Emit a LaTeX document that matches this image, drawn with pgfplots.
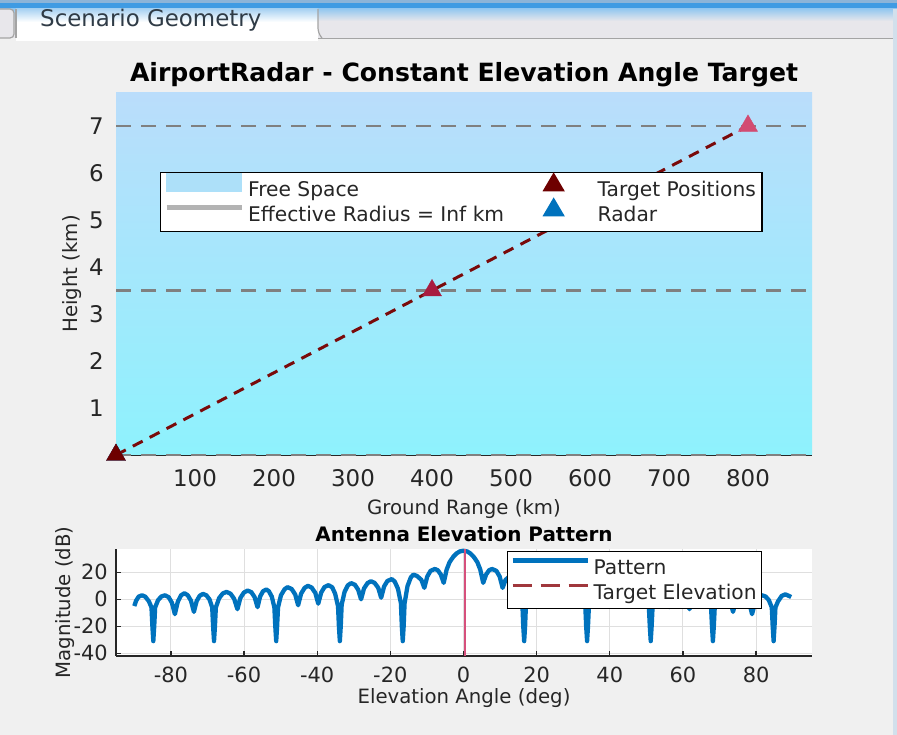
\documentclass[border=0pt]{standalone}
\usepackage{fontspec}
\setmainfont{DejaVu Sans}
\usepackage{pgfplots}
\pgfplotsset{compat=1.18}

\definecolor{uibg}{HTML}{F0F0F0}
\definecolor{uibar}{HTML}{E8E7EB}
\definecolor{uiblue}{HTML}{3F9BE3}
\definecolor{uitop}{HTML}{8CB4D8}
\definecolor{uiline}{HTML}{A4A4A4}
\definecolor{uiedge}{HTML}{D2E0EC}
\definecolor{tabtxt}{HTML}{2F3B46}
\definecolor{txt}{HTML}{262626}
\definecolor{skytop}{HTML}{BADDFB}
\definecolor{skybot}{HTML}{8EF2FD}
\definecolor{freespace}{HTML}{ADE0F9}
\definecolor{tgtA}{HTML}{6E0000}
\definecolor{tgtB}{HTML}{A81C40}
\definecolor{tgtC}{HTML}{D24B72}
\definecolor{tgtline}{HTML}{7A0A0A}
\definecolor{mblue}{HTML}{0072BD}
\definecolor{elev}{HTML}{D6507C}
\definecolor{elevleg}{HTML}{A0373C}
\definecolor{gline}{HTML}{808080}
\definecolor{effr}{HTML}{B3B3B3}
\definecolor{gridc}{HTML}{DFDFDF}

\newcommand\fs[1]{\fontsize{#1}{#1}\selectfont}

\begin{document}
\begin{tikzpicture}[x=1bp,y=1bp]
% window background and tab strip
\fill[uibg] (0,0) rectangle (897,735);
\useasboundingbox (0,0) rectangle (897,735);
\fill[uitop] (0,732) rectangle (897,735);
\fill[uiblue] (0,726) rectangle (897,732);
\shade[top color=uiblue!55!white, bottom color=uibar] (0,714) rectangle (897,726);
\fill[uibar] (0,697) rectangle (897,714);
\draw[uiline, line width=1.5] (318,696.5) -- (897,696.5);
\fill[uibg] (0,660) rectangle (897,695.8);
\draw[uiline, line width=1.2, fill=uibar, rounded corners=4] (-5,726) -- (14,726) -- (14,697) -- (-5,697);
\shade[top color=uiblue!45!white, bottom color=white, middle color=white, shading angle=0]
  (16,726) rectangle (318,700);
\fill[white] (16,700) rectangle (318,694);
\draw[uiline, line width=1.2, rounded corners=5] (16,697) -- (16,726);
\draw[uiline, line width=1.2, rounded corners=5] (318,726) -- (318,702) -- (322,697);
\node[anchor=base west, font=\fs{23}, text=tabtxt, inner sep=0pt] at (40,708) {Scenario Geometry};
\fill[uiedge] (893,0) rectangle (897,726);

% ---------- scenario geometry ----------
\begin{axis}[
  at={(116bp,280bp)}, anchor=south west,
  width=696bp, height=362bp, scale only axis,
  xmin=0, xmax=881, ymin=0, ymax=7.7,
  axis x line*=bottom, axis y line*=left,
  x axis line style={draw=txt, line width=1.5bp, -},
  y axis line style={draw=none, -},
  xtick={100,200,...,800}, ytick={1,2,...,7},
  xticklabels={100,200,300,400,500,600,700,800},
  yticklabels={1,2,3,4,5,6,7},
  major tick length=0pt,
  tick label style={font=\fs{23}, text=txt},
  xticklabel style={anchor=center, yshift=-23bp},
  yticklabel style={anchor=east, inner sep=0pt, xshift=-12bp},
  clip=false,
  title={AirportRadar - Constant Elevation Angle Target},
  title style={font=\bfseries\fs{25.2}, at={(axis description cs:0.5,1.0331)}, anchor=center, text=black},
  xlabel={Ground Range (km)},
  xlabel style={font=\fs{19.8}, text=txt, at={(axis description cs:0.5,-0.1492)}, anchor=center},
  ylabel={Height (km)},
  ylabel style={font=\fs{19.8}, text=txt, at={(axis description cs:-0.0632,0.5)}, anchor=center},
  legend columns=2,
  legend cell align=left,
  legend style={at={(axis description cs:0.0632,0.7818)}, anchor=north west,
    draw=black, line width=1.3bp, fill=white, inner xsep=6bp, inner ysep=7bp,
    font=\fs{20.3}, text=txt,
    nodes={inner sep=0pt, text height=17bp, text depth=3bp, anchor=west},
    row sep=5bp,
    /tikz/every odd column/.append style={column sep=6.5bp},
    /tikz/every even column/.append style={column sep=12bp}},
]
\addplot[forget plot, draw=none, top color=skytop, bottom color=skybot]
  coordinates {(0,7.7) (881,7.7)} \closedcycle;
\addplot[forget plot, gline, line width=2.5bp, dash pattern=on 15bp off 10bp] coordinates {(0,0) (881,0)};
\addplot[forget plot, gline, line width=2.5bp, dash pattern=on 15bp off 10bp] coordinates {(0,3.5) (881,3.5)};
\addplot[forget plot, gline, line width=2.5bp, dash pattern=on 15bp off 10bp] coordinates {(0,7) (881,7)};
\addplot[forget plot, tgtline, line width=3bp, dash pattern=on 11bp off 8bp]
  coordinates {(0,0) (400,3.5) (800,7)};
% radar
\addplot[forget plot, only marks, mark=triangle*, mark size=11bp, mark options={fill=mblue, draw=mblue}]
  coordinates {(0,0)};
% targets
\addplot[forget plot, only marks, scatter, scatter src=explicit symbolic, mark size=11bp,
  scatter/classes={a={mark=triangle*, fill=tgtA, draw=tgtA},
                   b={mark=triangle*, fill=tgtB, draw=tgtB},
                   c={mark=triangle*, fill=tgtC, draw=tgtC}}]
  coordinates {(0,0) [a] (400,3.5) [b] (800,7) [c]};
\addlegendimage{legend image code/.code={\path[draw=none,fill=none] (0bp,7bp) -- (75bp,7bp);\fill[freespace, overlay] (0bp,-2bp) rectangle (75bp,16bp);}}
\addlegendentry{Free Space}
\addlegendimage{legend image code/.code={\path[draw=none,fill=none] (0bp,7bp) -- (75bp,7bp);\fill[tgtA, overlay] (37.5bp,16bp) -- (27.5bp,-1bp) -- (47.5bp,-1bp) -- cycle;}}
\addlegendentry{Target Positions}
\addlegendimage{legend image code/.code={\path[draw=none,fill=none] (0bp,7bp) -- (75bp,7bp);\draw[effr, line width=5bp, overlay] (0bp,7bp) -- (75bp,7bp);}}
\addlegendentry{Effective Radius = Inf km}
\addlegendimage{legend image code/.code={\path[draw=none,fill=none] (0bp,7bp) -- (75bp,7bp);\fill[mblue, overlay] (37.5bp,16bp) -- (27.5bp,-1bp) -- (47.5bp,-1bp) -- cycle;}}
\addlegendentry{Radar}
\end{axis}

% ---------- antenna elevation pattern ----------
\begin{axis}[
  at={(116bp,79bp)}, anchor=south west,
  width=696bp, height=107bp, scale only axis,
  xmin=-95, xmax=95.3, ymin=-42, ymax=37.3,
  axis background/.style={fill=white},
  axis x line*=bottom, axis y line*=left,
  axis line style={draw=txt, line width=1.3bp, -},
  xtick={-80,-60,...,80}, ytick={-40,-20,0,20},
  xticklabels={-80,-60,-40,-20,0,20,40,60,80},
  yticklabels={-40,-20,0,20},
  grid=major, major grid style={draw=gridc, line width=1bp},
  tick align=inside, major tick length=5bp,
  tick style={draw=txt, line width=1.3bp},
  tick label style={font=\fs{21}, text=txt},
  xticklabel style={anchor=center, yshift=-19bp},
  yticklabel style={anchor=east, inner sep=0pt, xshift=-8bp},
  title={Antenna Elevation Pattern},
  title style={font=\bfseries\fs{20}, at={(axis description cs:0.5,1.084)}, anchor=center, text=black},
  xlabel={Elevation Angle (deg)},
  xlabel style={font=\fs{19.8}, text=txt, at={(axis description cs:0.5,-0.3925)}, anchor=center},
  ylabel={Magnitude (dB)},
  ylabel style={font=\fs{19.8}, text=txt, at={(axis description cs:-0.0733,0.5)}, anchor=center},
  legend cell align=left,
  legend style={at={(axis description cs:0.5618,0.9813)}, anchor=north west,
    draw=black, line width=1.3bp, fill=white, inner xsep=5bp, inner ysep=6bp,
    font=\fs{20.3}, text=txt,
    nodes={inner sep=0pt, text height=17bp, text depth=3bp, anchor=west},
    row sep=5bp,
    /tikz/every odd column/.append style={column sep=6bp}},
]
\addplot[forget plot, mblue, line width=4.3bp, line join=round] coordinates {
(-90,-5) (-89.5,-1) (-88.8,2) (-87.9,3) (-87,2) (-86,-1.5) (-85.3,-6)
(-85.05,-20) (-84.8,-31) (-84.55,-20) (-84.3,-6)
(-83.5,-0.6) (-82.6,2.1) (-81.6,3) (-80.6,1.6) (-79.7,-2.6) (-78.9,-11)
(-78.1,-1.7) (-77.2,3) (-76.3,4.5) (-75.4,3.1) (-74.5,-1) (-73.7,-9.3)
(-72.95,-1.3) (-72.1,2.7) (-71.2,4) (-70.3,3) (-69.45,0) (-68.7,-6)
(-68.45,-20) (-68.2,-31) (-67.95,-20) (-67.7,-6)
(-66.8,0.9) (-65.8,4.35) (-64.8,5.5) (-63.7,4.2) (-62.7,0.4) (-61.8,-7.3)
(-61,1) (-60,5.1) (-59,6.5) (-58,5.3) (-57.1,1.6) (-56.3,-5.8)
(-55.6,2.1) (-54.8,6) (-53.9,7.3) (-53.2,6) (-52.4,2) (-51.7,-6)
(-51.45,-20) (-51.2,-31) (-50.95,-20) (-50.7,-6)
(-49.9,3) (-48.9,7.5) (-48.1,9) (-47,7.7) (-46,3.6) (-45.2,-4.4)
(-44.4,4.2) (-43.4,8.6) (-42.5,10) (-41.5,8.7) (-40.5,4.7) (-39.7,-3.2)
(-38.9,5) (-38,9.1) (-36.9,10.5) (-35.9,8.95) (-35.1,4.3) (-34.3,-5)
(-34.05,-20) (-33.8,-31) (-33.55,-20) (-33.3,-4)
(-32.5,5.6) (-31.6,10.4) (-30.7,12) (-29.7,10.8) (-28.8,7.2) (-28,0)
(-27.2,8) (-26.2,12.1) (-25.3,13.4) (-24.3,12.2) (-23.3,8.5) (-22.5,1.2)
(-21.7,9.5) (-20.8,13.6) (-19.6,15) (-18.8,13.2) (-17.9,7.8) (-17.1,-3)
(-16.85,-20) (-16.6,-31) (-16.35,-20) (-16.1,-3)
(-15.3,9.8) (-14.4,16.2) (-13.7,18.3) (-12.7,17.3) (-11.5,14.4) (-10.7,8.5)
(-9.9,16.9) (-9,21.1) (-7.8,22.5) (-7,21.5) (-6.2,18.4) (-5.4,12.2)
(-4.6,22) (-3.8,27.5) (-2.8,31.5) (-1.9,34) (-1,35.5) (0,36)
(1,35.5) (1.9,34) (2.8,31.5) (3.8,27.5) (4.6,22) (5.4,12.2)
(6.2,18.4) (7,21.5) (7.8,22.5) (9,21.1) (9.9,16.9) (10.7,8.5)
(11.5,14.4) (12.7,17.3) (13.7,18.3) (14.4,16.2) (15.3,9.8) (16.1,-3)
(16.35,-20) (16.6,-31) (16.85,-20) (17.1,-3)
(17.9,7.8) (18.8,13.2) (19.6,15) (20.8,13.6) (21.7,9.5) (22.5,1.2)
(23.3,8.5) (24.3,12.2) (25.3,13.4) (26.2,12.1) (27.2,8) (28,0)
(28.8,7.2) (29.7,10.8) (30.7,12) (31.6,10.4) (32.5,5.6) (33.3,-4)
(33.55,-20) (33.8,-31) (34.05,-20) (34.3,-5)
(35.1,4.3) (35.9,8.95) (36.9,10.5) (38,9.1) (38.9,5) (39.7,-3.2)
(40.5,4.7) (41.5,8.7) (42.5,10) (43.4,8.6) (44.4,4.2) (45.2,-4.4)
(46,3.6) (47,7.7) (48.1,9) (48.9,7.5) (49.9,3) (50.7,-6)
(50.95,-20) (51.2,-31) (51.45,-20) (51.7,-6)
(52.4,2) (53.2,6) (53.9,7.3) (54.8,6) (55.6,2.1) (56.3,-5.8)
(57.1,1.6) (58,5.3) (59,6.5) (60,5.1) (61,1) (61.8,-7.3)
(62.7,0.4) (63.7,4.2) (64.8,5.5) (65.8,4.35) (66.8,0.9) (67.7,-6)
(67.95,-20) (68.2,-31) (68.45,-20) (68.7,-6)
(69.45,0) (70.3,3) (71.2,4) (72.1,2.7) (72.95,-1.3) (73.7,-9.3)
(74.5,-1) (75.4,3.1) (76.3,4.5) (77.2,3) (78.1,-1.7) (78.9,-11)
(79.7,-2.6) (80.6,1.6) (81.6,3) (82.6,2.1) (83.5,-0.6) (84.3,-6)
(84.55,-20) (84.8,-31) (85.05,-20) (85.3,-6)
(86,-1.5) (87,2.5) (88,3.7) (89,2.5) (89.6,1.7)
};
\addplot[forget plot, elev, line width=1.8bp] coordinates {(0.5,-42) (0.5,37.3)};
\addlegendimage{legend image code/.code={\path[draw=none,fill=none] (0bp,7bp) -- (75bp,7bp);\draw[mblue, line width=5bp, overlay] (0bp,7bp) -- (75bp,7bp);}}
\addlegendentry{Pattern}
\addlegendimage{legend image code/.code={\path[draw=none,fill=none] (0bp,7bp) -- (75bp,7bp);\draw[elevleg, line width=2.5bp, dash pattern=on 19bp off 9bp, overlay] (0bp,7bp) -- (75bp,7bp);}}
\addlegendentry{Target Elevation}
\end{axis}
\end{tikzpicture}
\end{document}
